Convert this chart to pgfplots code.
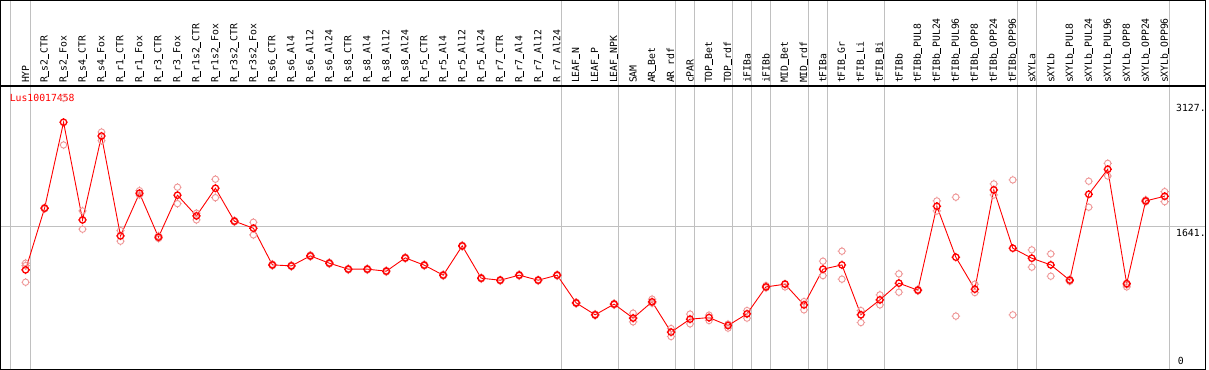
\documentclass[border=0pt]{standalone}
\usepackage{fontspec}
\setmainfont{DejaVu Sans Mono}
\newfontfamily\monofont{DejaVu Sans Mono}
\newcommand\labfont{\monofont\fontsize{9.8}{10}\selectfont}
\newcommand\us{\makebox[0.602em][l]{\rule[-1.3pt]{0.602em}{0.9pt}}}
\usepackage{pgfplots}
\pgfplotsset{compat=1.18}
\usepackage{pgfplotstable}
\definecolor{lightrep}{RGB}{238,150,150}
\definecolor{gridgray}{RGB}{192,192,192}
\pgfdeclareplotmark{ringt}{%
  \pgfpathcircle{\pgfpoint{0pt}{0pt}}{\pgfplotmarksize}%
  \pgfpathmoveto{\pgfpoint{0pt}{\pgfplotmarksize}}\pgfpathlineto{\pgfpoint{0pt}{\pgfplotmarksize+1pt}}%
  \pgfpathmoveto{\pgfpoint{0pt}{-\pgfplotmarksize}}\pgfpathlineto{\pgfpoint{0pt}{-\pgfplotmarksize-1pt}}%
  \pgfpathmoveto{\pgfpoint{\pgfplotmarksize}{0pt}}\pgfpathlineto{\pgfpoint{\pgfplotmarksize+1pt}{0pt}}%
  \pgfpathmoveto{\pgfpoint{-\pgfplotmarksize}{0pt}}\pgfpathlineto{\pgfpoint{-\pgfplotmarksize-1pt}{0pt}}%
  \pgfusepathqstroke}
\pgfplotstableread{
x y
0 1144
1 1853
2 2842
3 1719
4 2684
5 1535
6 2026
7 1520
8 2003
9 1765
10 2083
11 1704
12 1623
13 1201
14 1190
15 1305
16 1221
17 1152
18 1152
19 1129
20 1282
21 1198
22 1083
23 1420
24 1048
25 1025
26 1083
27 1025
28 1083
29 764
30 627
31 750
32 589
33 776
34 428
35 577
36 595
37 504
38 638
39 948
40 979
41 741
42 1152
43 1201
44 627
45 799
46 991
47 910
48 1876
49 1290
50 922
51 2064
52 1393
53 1278
54 1201
55 1025
56 2014
57 2301
58 986
59 1937
60 1991
}\maintable
\pgfplotstableread{
x y
0 1221
0 1193
0 1002
1 1862
1 1846
2 2581
2 3121
3 1822
3 1612
4 2730
4 2630
5 1596
5 1474
6 2055
6 2006
7 1535
7 1506
8 2095
8 1906
9 1796
9 1719
10 2187
10 1975
11 1712
11 1696
12 1692
12 1546
13 1210
13 1192
14 1198
14 1182
15 1315
15 1296
16 1230
16 1212
17 1160
17 1144
18 1160
18 1143
19 1138
19 1120
20 1290
20 1273
21 1207
21 1190
22 1092
22 1074
23 1428
23 1411
24 1057
24 1040
25 1033
25 1017
26 1092
26 1075
27 1033
27 1018
28 1091
28 1074
29 772
29 756
30 636
30 619
31 758
31 741
32 646
32 546
33 807
33 761
34 469
34 377
35 635
35 523
36 623
36 561
37 520
37 474
38 676
38 589
39 963
39 937
40 986
40 948
41 779
41 684
42 1244
42 1078
43 1359
43 1037
44 676
44 538
45 856
45 741
46 1098
46 887
47 919
47 902
48 1937
48 1822
49 1980
49 612
50 979
50 883
51 2133
51 2006
52 2179
52 627
53 1374
53 1175
54 1328
54 1071
55 1035
55 1012
56 2164
56 1865
57 2370
57 2224
58 971
58 948
59 1949
59 1926
60 2044
60 1929
}\reptable
\begin{document}
\begin{tikzpicture}
\begin{axis}[
  scale only axis, width=1206pt, height=369pt,
  xmin=-1.316, xmax=62.158, ymin=0, ymax=4242,
  axis line style={black, line width=1.2pt},
  major tick length=0pt,
  xtick={0,...,60},
  xticklabels={HYP,R\us s2\us CTR,R\us s2\us Fox,R\us s4\us CTR,R\us s4\us Fox,R\us r1\us CTR,R\us r1\us Fox,R\us r3\us CTR,R\us r3\us Fox,R\us r1s2\us CTR,R\us r1s2\us Fox,R\us r3s2\us CTR,R\us r3s2\us Fox,R\us s6\us CTR,R\us s6\us Al4,R\us s6\us Al12,R\us s6\us Al24,R\us s8\us CTR,R\us s8\us Al4,R\us s8\us Al12,R\us s8\us Al24,R\us r5\us CTR,R\us r5\us Al4,R\us r5\us Al12,R\us r5\us Al24,R\us r7\us CTR,R\us r7\us Al4,R\us r7\us Al12,R\us r7\us Al24,LEAF\us N,LEAF\us P,LEAF\us NPK,SAM,AR\us Bet,AR\us rdf,cPAR,TOP\us Bet,TOP\us rdf,iFIBa,iFIBb,MID\us Bet,MID\us rdf,tFIBa,tFIB\us Gr,tFIB\us Li,tFIB\us Bi,tFIBb,tFIBb\us PUL8,tFIBb\us PUL24,tFIBb\us PUL96,tFIBb\us OPP8,tFIBb\us OPP24,tFIBb\us OPP96,sXYLa,sXYLb,sXYLb\us PUL8,sXYLb\us PUL24,sXYLb\us PUL96,sXYLb\us OPP8,sXYLb\us OPP24,sXYLb\us OPP96},
  xticklabel pos=upper,
  xticklabel style={rotate=90, anchor=west, font=\labfont},
  xticklabel shift=-86pt,
  extra x ticks={-0.8,0.24,28.24,31.24,34.24,35.24,37.24,38.24,39.24,41.24,42.24,45.24,52.24,53.24,60.24},
  extra x tick labels={},
  extra x tick style={grid=major, major grid style={gridgray, line width=1pt}},
  ytick={1641}, yticklabels={1641.},
  ymajorgrids, major grid style={gridgray, line width=1pt},
  yticklabel pos=right,
  yticklabel style={anchor=north west, font=\labfont, yshift=1pt},
  yticklabel shift=-33pt,
  extra y ticks={3127}, extra y tick labels={3127.},
  extra y tick style={grid=none, yticklabel style={yshift=-4.5pt}},
  clip=false,
]
\draw[black, line width=1.2pt] (axis cs:-1.316,3259) -- (axis cs:62.158,3259);
\addplot[only marks, mark=ringt, mark size=3.2pt, mark options={lightrep, line width=0.9pt}] table[x=x,y=y]{\reptable};
\addplot[red, line width=0.9pt, mark=ringt, mark size=3.2pt, mark options={red, line width=1.3pt}] table[x=x,y=y]{\maintable};
\node[anchor=west, inner sep=0pt, text=red, font=\labfont] at (axis cs:-0.842,3125) {Lus10017458};
\node[anchor=south west, inner sep=0pt, font=\labfont] at (axis cs:60.684,57) {0};
\end{axis}
\end{tikzpicture}
\end{document}
